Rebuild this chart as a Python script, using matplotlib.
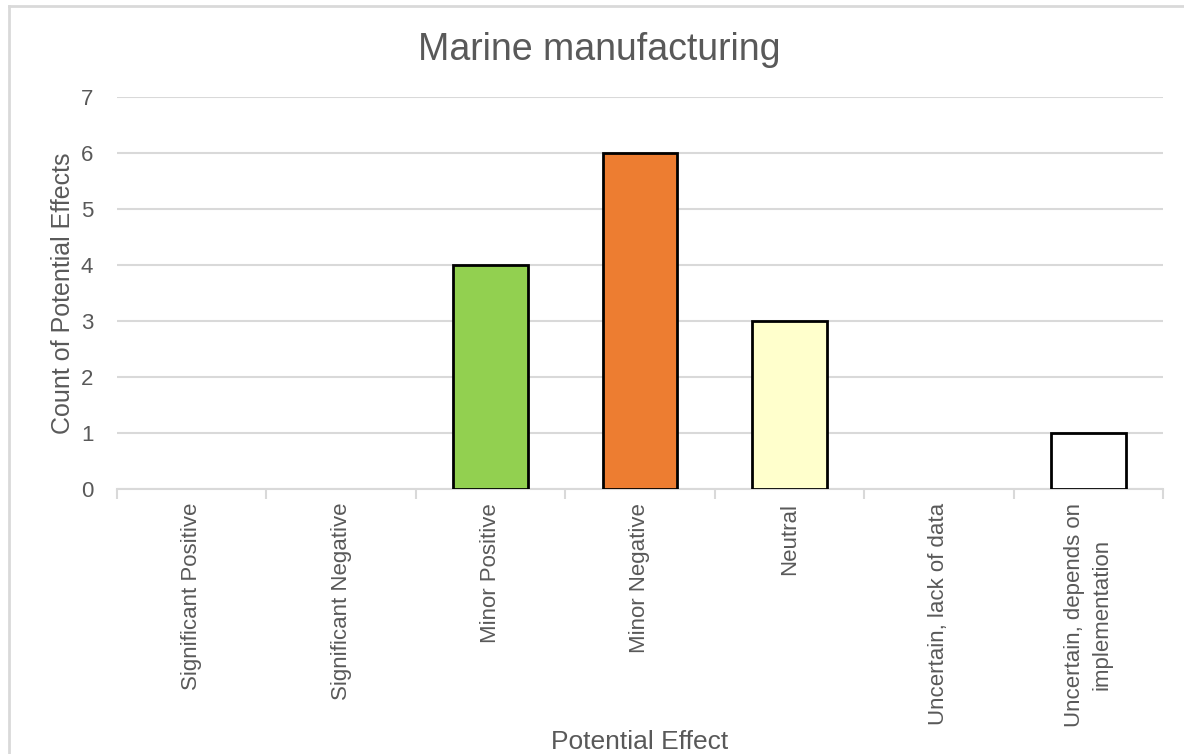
import matplotlib.pyplot as plt
import numpy as np

plt.rcParams['font.family'] = ['Liberation Sans', 'DejaVu Sans']

categories = ['Significant Positive', 'Significant Negative', 'Minor Positive',
              'Minor Negative', 'Neutral', 'Uncertain, lack of data',
              'Uncertain, depends on\nimplementation']
counts = [0, 0, 4, 6, 3, 0, 1]
colors = ['#92D050', '#92D050', '#92D050', '#ED7D31', '#FFFFCC', '#FFFFFF', '#FFFFFF']

text_grey = '#595959'
grid_grey = '#D9D9D9'

fig = plt.figure(figsize=(11.84, 7.54), dpi=100)
ax = fig.add_axes([0.0988, 0.3515, 0.8834, 0.5199])

x = np.arange(len(categories))
for xi, c, col in zip(x, counts, colors):
    if c > 0:
        ax.bar(xi, c, width=0.5, color=col, edgecolor='black', linewidth=2, zorder=3)

ax.set_xlim(-0.5, len(categories) - 0.5)
ax.set_ylim(0, 7)
ax.set_yticks(range(0, 8))
ax.yaxis.grid(True, color=grid_grey, linewidth=1.5, zorder=0)
ax.tick_params(axis='y', length=0, labelsize=16, colors=text_grey, pad=17)

# category labels centred, tick marks on the category boundaries
ax.set_xticks(x)
ax.set_xticklabels(categories, rotation=90, fontsize=16, color=text_grey,
                   va='top', ha='center', multialignment='center', linespacing=1.35)
ax.tick_params(axis='x', length=0, pad=10)
ax.set_xticks(np.arange(-0.5, len(categories)), minor=True)
ax.tick_params(axis='x', which='minor', length=7, width=1.5, color=grid_grey)

for s in ['top', 'right', 'left']:
    ax.spines[s].set_visible(False)
ax.spines['bottom'].set_color(grid_grey)
ax.spines['bottom'].set_linewidth(1.5)

ax.set_ylabel('Count of Potential Effects', fontsize=18, color=text_grey, labelpad=4)
fig.text(0.54, 0.016, 'Potential Effect', fontsize=19, color=text_grey, ha='center', va='center')
fig.text(0.506, 0.934, 'Marine manufacturing', fontsize=27, color=text_grey, ha='center', va='center')

# light frame around the chart area
fig.add_artist(plt.Line2D([9 / 1184, 9 / 1184], [0, 1 - 6 / 754], color=grid_grey,
                          linewidth=2, transform=fig.transFigure))
fig.add_artist(plt.Line2D([9 / 1184, 1], [1 - 6 / 754, 1 - 6 / 754], color=grid_grey,
                          linewidth=2, transform=fig.transFigure))

fig.savefig('out.png', dpi=100)
